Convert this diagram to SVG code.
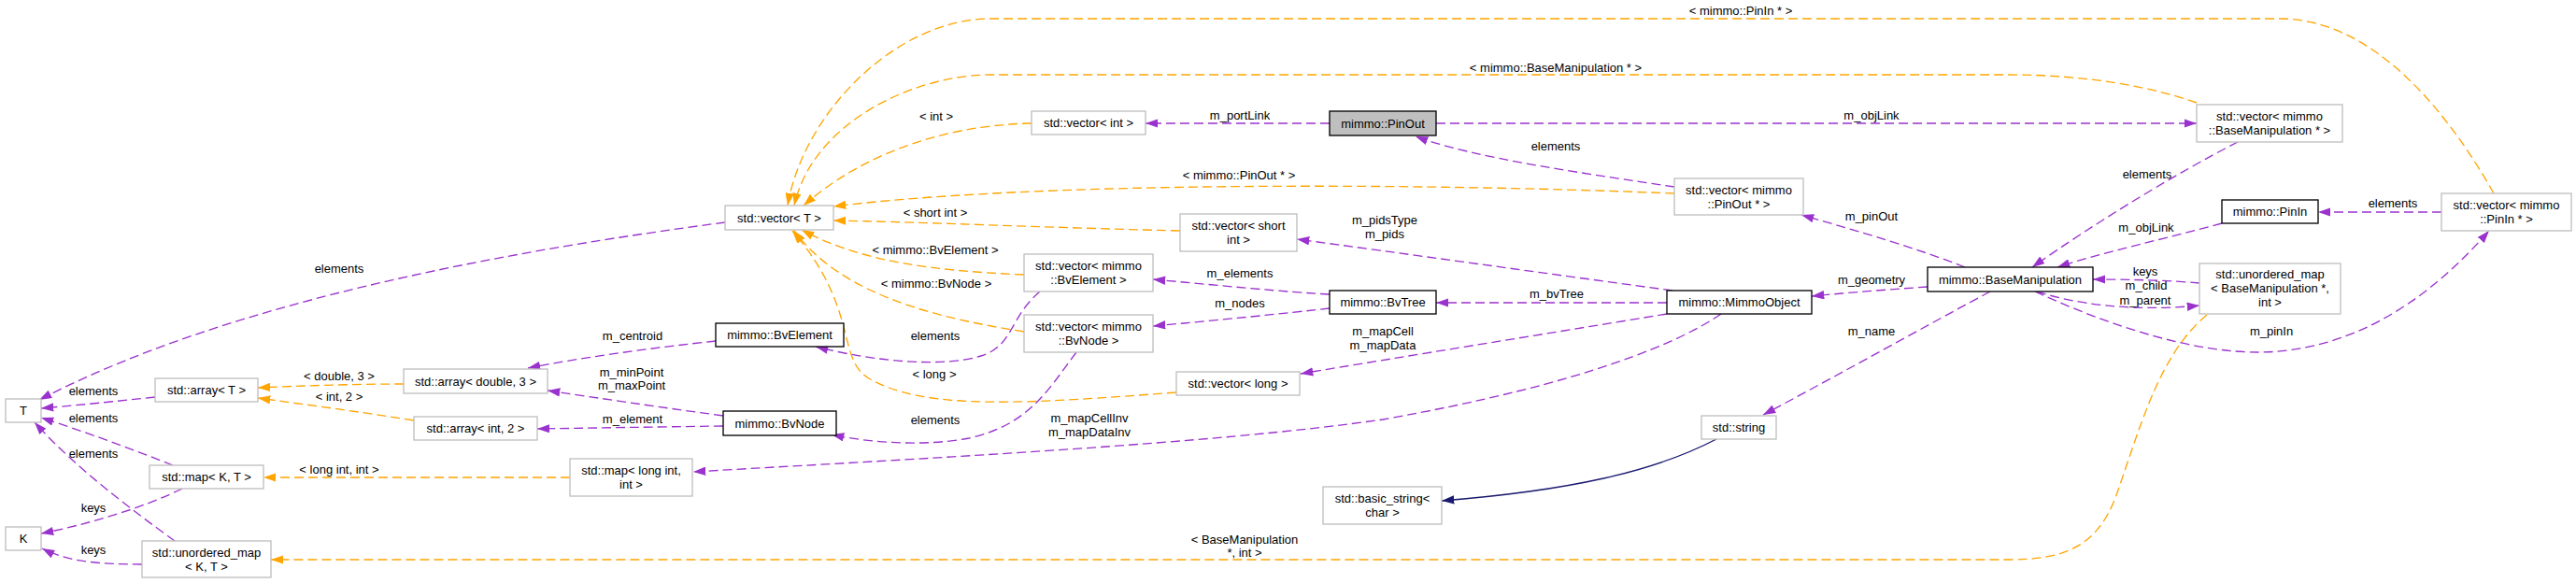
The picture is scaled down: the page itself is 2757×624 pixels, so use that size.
<svg xmlns="http://www.w3.org/2000/svg" width="2757" height="624" viewBox="0 0 2757 624">
<style>
.n rect{fill:#fff;stroke:#bfbfbf;stroke-width:1.33}
.d rect{stroke:#000}
.g rect{fill:#bfbfbf;stroke:#000}
text{font-family:"Liberation Sans",Arial,Helvetica,sans-serif;font-size:13px;fill:#000;text-anchor:middle}
.p{fill:none;stroke:#9a32cd;stroke-width:1.33;stroke-dasharray:10,5;marker-end:url(#ap)}
.o{fill:none;stroke:#ffa500;stroke-width:1.33;stroke-dasharray:10,5;marker-end:url(#ao)}
.b{fill:none;stroke:#191970;stroke-width:1.33;marker-end:url(#ab)}
</style>
<defs>
<marker id="ap" markerUnits="userSpaceOnUse" markerWidth="13.3" markerHeight="9.4" viewBox="0 0 13.3 9.4" refX="13.3" refY="4.7" orient="auto"><path d="M0,0 L13.3,4.7 L0,9.4 Z" fill="#9a32cd"/></marker>
<marker id="ao" markerUnits="userSpaceOnUse" markerWidth="13.3" markerHeight="9.4" viewBox="0 0 13.3 9.4" refX="13.3" refY="4.7" orient="auto"><path d="M0,0 L13.3,4.7 L0,9.4 Z" fill="#ffa500"/></marker>
<marker id="ab" markerUnits="userSpaceOnUse" markerWidth="13.3" markerHeight="9.4" viewBox="0 0 13.3 9.4" refX="13.3" refY="4.7" orient="auto"><path d="M0,0 L13.3,4.7 L0,9.4 Z" fill="#191970"/></marker>
</defs>
<rect width="2757" height="624" fill="#fff"/>
<g id="edges">
<g><path class="p" d="M1423,132 L1226,132"/><text x="1327" y="128">m_portLink</text></g>
<g><path class="p" d="M1537,132 L2351,132"/><text x="2003" y="128">m_objLink</text></g>
<g><path class="p" d="M1792,200 C1700,186 1580,170 1515,146"/><text x="1665" y="161">elements</text></g>
<g><path class="p" d="M776,238 C550,268 250,320 42,428"/><text x="363" y="292">elements</text></g>
<g><path class="p" d="M166,425 C120,430 80,434 44,437"/><text x="100" y="423">elements</text></g>
<g><path class="p" d="M185,498 C140,480 90,462 44,447"/><text x="100" y="452">elements</text></g>
<g><path class="p" d="M187,579 C140,545 80,500 37,452"/><text x="100" y="490">elements</text></g>
<g><path class="p" d="M195,523 C150,545 90,562 44,571"/><text x="100" y="548">keys</text></g>
<g><path class="p" d="M152,604 C100,604 70,600 45,587"/><text x="100" y="593">keys</text></g>
<g><path class="p" d="M766,365 C700,372 620,383 565,394"/><text x="677" y="364">m_centroid</text></g>
<g><path class="p" d="M774,445 C700,435 640,426 586,418"/><text x="676" y="403">m_minPoint</text><text x="676" y="417">m_maxPoint</text></g>
<g><path class="p" d="M774,456 C700,457 640,458 575,459"/><text x="677" y="453">m_element</text></g>
<g><path class="p" d="M1113,312 C1080,340 1085,370 1050,381 C1010,393 940,388 873,371"/><text x="1001" y="364">elements</text></g>
<g><path class="p" d="M1152,377 C1120,420 1100,455 1037,469 C990,478 930,474 890,465"/><text x="1001" y="454">elements</text></g>
<g><path class="p" d="M1423,315 C1380,313 1300,305 1234,299"/><text x="1327" y="297">m_elements</text></g>
<g><path class="p" d="M1423,330 C1380,335 1300,343 1234,349"/><text x="1327" y="329">m_nodes</text></g>
<g><path class="p" d="M1784,324 L1537,324"/><text x="1666" y="319">m_bvTree</text></g>
<g><path class="p" d="M1790,311 C1650,292 1500,271 1388,256"/><text x="1482" y="240">m_pidsType</text><text x="1482" y="255">m_pids</text></g>
<g><path class="p" d="M1784,336 C1650,358 1500,382 1392,400"/><text x="1480" y="359">m_mapCell</text><text x="1480" y="374">m_mapData</text></g>
<g><path class="p" d="M1842,336 C1800,365 1700,410 1480,449 C1300,475 1000,490 742,505"/><text x="1166" y="452">m_mapCellInv</text><text x="1166" y="467">m_mapDataInv</text></g>
<g><path class="p" d="M2063,307 C2020,310 1980,313 1939,317"/><text x="2003" y="304">m_geometry</text></g>
<g><path class="p" d="M2103,286 C2050,265 1990,248 1928,230"/><text x="2003" y="236">m_pinOut</text></g>
<g><path class="p" d="M2395,152 C2330,185 2240,240 2175,286"/><text x="2298" y="191">elements</text></g>
<g><path class="p" d="M2378,239 C2320,255 2250,270 2202,286"/><text x="2297" y="248">m_objLink</text></g>
<g><path class="p" d="M2613,227 L2481,227"/><text x="2561" y="222">elements</text></g>
<g><path class="p" d="M2354,303 C2320,300 2280,299 2240,299"/><text x="2296" y="295">keys</text></g>
<g><path class="p" d="M2180,312 C2220,325 2280,334 2354,327"/><text x="2297" y="310">m_child</text><text x="2296" y="326">m_parent</text></g>
<g><path class="p" d="M2178,312 C2260,350 2350,378 2420,377 C2520,375 2600,320 2664,247"/><text x="2431" y="359">m_pinIn</text></g>
<g><path class="p" d="M2130,312 C2050,355 1970,400 1887,444"/><text x="2003" y="359">m_name</text></g>
<g><path class="b" d="M1837,470 C1770,505 1680,525 1543,536"/></g>
<g><path class="o" d="M2669,207 C2620,120 2540,20 2440,20 L1060,20 C960,20 860,120 843,220"/><text x="1863" y="16">&lt; mimmo::PinIn * &gt;</text></g>
<g><path class="o" d="M2351,110 C2300,92 2230,80 2150,80 L1060,80 C980,80 870,130 850,220"/><text x="1665" y="77">&lt; mimmo::BaseManipulation * &gt;</text></g>
<g><path class="o" d="M1104,132 C1040,133 940,150 860,220"/><text x="1002" y="129">&lt; int &gt;</text></g>
<g><path class="o" d="M1792,207 C1500,195 1100,195 892,221"/><text x="1326" y="192">&lt; mimmo::PinOut * &gt;</text></g>
<g><path class="o" d="M1263,247 C1100,243 1000,238 892,236"/><text x="1001" y="232">&lt; short int &gt;</text></g>
<g><path class="o" d="M1096,294 C1000,290 920,280 858,246"/><text x="1001" y="272">&lt; mimmo::BvElement &gt;</text></g>
<g><path class="o" d="M1096,355 C1000,340 900,315 850,247"/><text x="1002" y="308">&lt; mimmo::BvNode &gt;</text></g>
<g><path class="o" d="M1259,420 C1100,432 990,440 930,405 C895,385 920,330 848,247"/><text x="1000" y="405">&lt; long &gt;</text></g>
<g><path class="o" d="M432,411 C380,411 320,413 276,415"/><text x="363" y="407">&lt; double, 3 &gt;</text></g>
<g><path class="o" d="M443,450 C380,440 320,432 276,426"/><text x="363" y="429">&lt; int, 2 &gt;</text></g>
<g><path class="o" d="M610,511 L282,511"/><text x="363" y="507">&lt; long int, int &gt;</text></g>
<g><path class="o" d="M2362,337 C2310,380 2290,460 2265,530 C2245,585 2210,599 2150,599 L290,599"/><text x="1332" y="582">&lt; BaseManipulation</text><text x="1332" y="596">*, int &gt;</text></g>
</g>
<g id="n_T" class="n"><rect x="6" y="427" width="38" height="25"/><text x="25" y="444">T</text></g>
<g id="n_K" class="n"><rect x="6" y="564" width="38" height="25"/><text x="25" y="581">K</text></g>
<g id="n_arrayT" class="n"><rect x="166" y="405" width="110" height="25"/><text x="221" y="422">std::array&lt; T &gt;</text></g>
<g id="n_mapKT" class="n"><rect x="160" y="498" width="122" height="25"/><text x="221" y="515">std::map&lt; K, T &gt;</text></g>
<g id="n_umapKT" class="n"><rect x="152" y="579" width="138" height="39"/><text x="221" y="596">std::unordered_map</text><text x="221" y="611">&lt; K, T &gt;</text></g>
<g id="n_arrayD3" class="n"><rect x="432" y="395" width="154" height="26"/><text x="509" y="412.5">std::array&lt; double, 3 &gt;</text></g>
<g id="n_arrayI2" class="n"><rect x="443" y="446" width="132" height="25"/><text x="509" y="463">std::array&lt; int, 2 &gt;</text></g>
<g id="n_mapLI" class="n"><rect x="610" y="491" width="131" height="40"/><text x="675.5" y="508">std::map&lt; long int,</text><text x="675.5" y="523">int &gt;</text></g>
<g id="n_BvElement" class="n d"><rect x="766" y="346" width="137" height="25"/><text x="834.5" y="363">mimmo::BvElement</text></g>
<g id="n_BvNode" class="n d"><rect x="774" y="440" width="121" height="26"/><text x="834.5" y="457.5">mimmo::BvNode</text></g>
<g id="n_vectorT" class="n"><rect x="776" y="220" width="116" height="26"/><text x="834" y="237.5">std::vector&lt; T &gt;</text></g>
<g id="n_vectorInt" class="n"><rect x="1104" y="119" width="122" height="25"/><text x="1165" y="136">std::vector&lt; int &gt;</text></g>
<g id="n_vectorBvElement" class="n"><rect x="1096" y="272" width="138" height="40"/><text x="1165" y="289">std::vector&lt; mimmo</text><text x="1165" y="304">::BvElement &gt;</text></g>
<g id="n_vectorBvNode" class="n"><rect x="1096" y="337" width="138" height="40"/><text x="1165" y="354">std::vector&lt; mimmo</text><text x="1165" y="369">::BvNode &gt;</text></g>
<g id="n_vectorShort" class="n"><rect x="1263" y="229" width="125" height="40"/><text x="1325.5" y="246">std::vector&lt; short</text><text x="1325.5" y="261">int &gt;</text></g>
<g id="n_vectorLong" class="n"><rect x="1259" y="398" width="132" height="25"/><text x="1325" y="415">std::vector&lt; long &gt;</text></g>
<g id="n_PinOut" class="n g"><rect x="1423" y="119" width="114" height="26"/><text x="1480" y="136.5">mimmo::PinOut</text></g>
<g id="n_BvTree" class="n d"><rect x="1423" y="311" width="114" height="25"/><text x="1480" y="328">mimmo::BvTree</text></g>
<g id="n_basicString" class="n"><rect x="1416" y="521" width="127" height="40"/><text x="1479.5" y="538">std::basic_string&lt;</text><text x="1479.5" y="553">char &gt;</text></g>
<g id="n_MimmoObject" class="n d"><rect x="1784" y="311" width="155" height="25"/><text x="1861.5" y="328">mimmo::MimmoObject</text></g>
<g id="n_vectorPinOut" class="n"><rect x="1792" y="191" width="138" height="39"/><text x="1861" y="208">std::vector&lt; mimmo</text><text x="1861" y="223">::PinOut * &gt;</text></g>
<g id="n_string" class="n"><rect x="1821" y="445" width="80" height="25"/><text x="1861" y="462">std::string</text></g>
<g id="n_BaseManipulation" class="n d"><rect x="2063" y="286" width="177" height="26"/><text x="2151.5" y="303.5">mimmo::BaseManipulation</text></g>
<g id="n_vectorBaseManip" class="n"><rect x="2351" y="112" width="156" height="40"/><text x="2429" y="129">std::vector&lt; mimmo</text><text x="2429" y="144">::BaseManipulation * &gt;</text></g>
<g id="n_PinIn" class="n d"><rect x="2378" y="214" width="103" height="25"/><text x="2429.5" y="231">mimmo::PinIn</text></g>
<g id="n_umapBaseManip" class="n"><rect x="2354" y="282" width="151" height="54"/><text x="2429.5" y="298">std::unordered_map</text><text x="2429.5" y="313">&lt; BaseManipulation *,</text><text x="2429.5" y="328">int &gt;</text></g>
<g id="n_vectorPinIn" class="n"><rect x="2613" y="207" width="139" height="40"/><text x="2682.5" y="224">std::vector&lt; mimmo</text><text x="2682.5" y="239">::PinIn * &gt;</text></g>
</svg>
